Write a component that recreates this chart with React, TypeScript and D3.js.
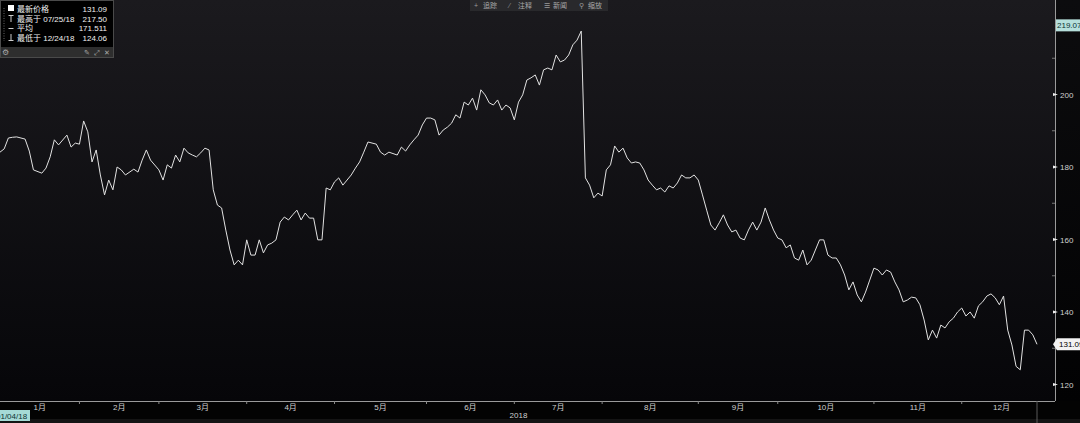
import { useEffect } from 'react'
import * as d3 from 'd3'

// [trading day since 01/04/18, close]
const SERIES: [number, number][] = [
  [0, 184.1], [1, 185.0], [2, 188.0], [3, 188.2], [4, 188.3], [6, 187.7], [7, 184.4], [8, 179.2], [10, 178.3], [11, 179.7],
  [12, 182.8], [13, 187.5], [14, 186.1], [16, 188.8], [17, 185.5], [18, 186.6], [19, 186.3], [20, 192.7], [21, 189.7], [22, 181.4],
  [23, 184.7], [24, 177.8], [25, 172.3], [26, 176.4], [27, 173.7], [28, 180.0], [29, 179.2], [30, 177.8], [32, 179.4], [33, 178.6],
  [34, 181.9], [35, 184.7], [36, 181.9], [38, 179.2], [39, 176.4], [40, 180.6], [41, 179.7], [42, 183.3], [43, 181.4], [44, 185.2],
  [45, 183.9], [46, 183.3], [47, 182.8], [48, 183.9], [49, 185.2], [50, 184.7], [51, 173.7], [52, 169.5], [53, 168.7], [54, 162.6],
  [55, 157.1], [56, 153.0], [57, 154.3], [58, 153.0], [59, 159.9], [60, 155.7], [61, 155.7], [62, 159.9], [63, 156.3], [64, 158.5],
  [65, 159.0], [66, 159.9], [67, 164.8], [68, 166.2], [69, 165.4], [70, 166.8], [71, 168.1], [72, 165.4], [73, 167.3], [74, 165.9],
  [75, 165.9], [76, 159.9], [77, 159.9], [78, 174.2], [79, 173.7], [80, 175.9], [81, 177.0], [82, 175.0], [83, 176.4], [84, 177.8],
  [85, 179.7], [86, 181.4], [87, 184.1], [88, 186.9], [90, 186.3], [91, 184.1], [92, 183.3], [93, 184.1], [95, 183.3], [96, 185.5],
  [97, 184.4], [98, 186.1], [99, 187.5], [100, 188.8], [101, 191.6], [102, 193.5], [103, 193.5], [104, 193.0], [105, 188.8], [106, 190.2],
  [107, 191.0], [108, 192.1], [109, 194.4], [110, 193.5], [111, 197.9], [112, 197.1], [113, 199.0], [114, 195.7], [115, 201.3], [116, 199.9],
  [117, 197.7], [118, 197.1], [119, 198.5], [120, 195.7], [121, 197.1], [122, 196.3], [123, 193.0], [124, 197.9], [125, 199.9], [126, 204.0],
  [127, 204.6], [128, 205.4], [129, 202.6], [130, 206.8], [131, 207.3], [132, 206.8], [133, 210.9], [134, 209.0], [135, 209.5], [136, 210.9],
  [137, 213.7], [138, 215.0], [139, 217.5], [140, 177.0], [141, 175.0], [142, 171.5], [143, 172.8], [144, 172.0], [145, 179.2], [146, 180.6],
  [147, 185.8], [148, 184.1], [149, 185.2], [150, 182.5], [151, 181.1], [152, 181.4], [153, 181.1], [154, 179.2], [155, 176.4], [156, 175.0],
  [157, 173.7], [158, 174.2], [159, 173.1], [160, 174.8], [161, 174.2], [162, 175.6], [163, 177.8], [164, 177.0], [165, 177.0], [166, 177.8],
  [167, 176.4], [168, 172.3], [169, 168.1], [170, 164.0], [171, 162.6], [172, 164.6], [173, 166.8], [174, 164.0], [175, 162.1], [176, 162.6],
  [177, 160.4], [178, 159.9], [179, 162.6], [180, 164.8], [181, 162.6], [182, 164.8], [183, 168.7], [184, 165.4], [185, 162.6], [186, 160.4],
  [187, 159.9], [188, 157.7], [189, 158.5], [190, 154.9], [191, 154.3], [192, 157.1], [193, 153.0], [194, 154.3], [195, 157.1], [196, 159.9],
  [197, 159.9], [198, 155.7], [199, 154.9], [200, 154.9], [201, 153.0], [202, 150.2], [203, 146.1], [204, 148.3], [205, 144.7], [206, 142.8],
  [207, 145.5], [208, 148.8], [209, 152.1], [210, 151.6], [211, 150.2], [212, 151.6], [213, 151.0], [214, 148.3], [215, 146.1], [216, 142.8],
  [217, 143.3], [218, 144.1], [219, 143.9], [220, 142.0], [221, 137.8], [222, 132.3], [223, 135.0], [224, 132.8], [225, 136.4], [226, 135.6],
  [227, 137.3], [228, 138.3], [229, 140.0], [230, 141.1], [231, 138.9], [232, 140.0], [233, 138.3], [234, 141.7], [235, 142.8], [236, 144.4],
  [237, 145.0], [238, 143.9], [239, 142.0], [240, 144.4], [241, 135.0], [242, 130.9], [243, 125.0], [244, 124.06], [245, 135.0], [246, 135.0],
  [247, 133.7], [248, 131.09],
]

// trading-day index where each month begins
const MONTH_STARTS = [0, 19, 38, 59, 80, 102, 123, 144, 167, 186, 209, 230, 249]
const MONTH_LABELS = ['1月', '2月', '3月', '4月', '5月', '6月', '7月', '8月', '9月', '10月', '11月', '12月']
const YEAR_LABEL = '2018'
const START_DATE = '01/04/18'

const Y_MAJOR = [120, 140, 160, 180, 200]
const Y_MINOR = [130, 150, 170, 190, 210]
const RANGE_TOP = 219.075
const LAST_PRICE = 131.09

const LEGEND_LABELS = ['最新价格', '最高于 07/25/18', '平均', '最低于 12/24/18']
const LEGEND_VALUES = ['131.09', '217.50', '171.511', '124.06']
const TOOLBAR_ICONS = ['+', '⁄', '☰', '⚲']
const TOOLBAR_LABELS = ['追踪', '注释', '新闻', '缩放']

const W = 1080
const H = 423
const PLOT_R = 1055
const PLOT_B = 401
const FONT = '"Liberation Sans", "Noto Sans CJK SC", sans-serif'

export default function App() {
  useEffect(() => {
    document.body.style.margin = '0'
    document.body.style.background = '#000'
  }, [])

  const lastDay = SERIES[SERIES.length - 1][0]
  const x = d3.scaleLinear().domain([0, lastDay]).range([0, 1037])
  const y = d3.scaleLinear().domain([115.45, 226.07]).range([PLOT_B, 0])

  const line = d3.line<[number, number]>()
    .x(d => x(d[0]))
    .y(d => y(d[1]))

  const lastX = x(lastDay)

  return (
    <svg width={W} height={H} style={{ display: 'block', background: '#000' }} fontFamily={FONT}>
      <defs>
        <linearGradient id="bg" x1="0" y1="0" x2="0" y2="1">
          <stop offset="0" stopColor="#1b1a1e" />
          <stop offset="1" stopColor="#060609" />
        </linearGradient>
        <linearGradient id="bgR" x1="0" y1="0" x2="0" y2="1">
          <stop offset="0" stopColor="#0c0c0e" />
          <stop offset="1" stopColor="#020203" />
        </linearGradient>
      </defs>

      {/* plot background */}
      <rect x={0} y={0} width={PLOT_R} height={PLOT_B} fill="url(#bg)" />
      <rect x={PLOT_R} y={0} width={W - PLOT_R} height={PLOT_B} fill="url(#bgR)" />
      <rect x={0} y={PLOT_B} width={W} height={H - PLOT_B} fill="#030303" />
      <rect x={0} y={419} width={W} height={4} fill="#141414" />

      {/* price line */}
      <path d={line(SERIES) ?? ''} fill="none" stroke="#e2e2e2" strokeWidth={1} strokeLinejoin="round" />

      {/* right axis */}
      <line x1={PLOT_R + 0.5} x2={PLOT_R + 0.5} y1={0} y2={PLOT_B} stroke="#9a9a9a" strokeWidth={1} />
      {Y_MINOR.map(v => (
        <line key={v} x1={PLOT_R - 3} x2={PLOT_R} y1={y(v)} y2={y(v)} stroke="#777" />
      ))}
      {Y_MAJOR.map(v => (
        <g key={v}>
          <path d={`M${PLOT_R - 2},${y(v) - 1.5}L${PLOT_R + 3},${y(v)}L${PLOT_R - 2},${y(v) + 1.5}Z`} fill="#eee" />
          <text x={PLOT_R + 5} y={y(v) + 3} fontSize={8} fill="#d0d0d0">{v}</text>
        </g>
      ))}

      {/* range top label */}
      <rect x={PLOT_R + 1} y={y(RANGE_TOP) - 6} width={30} height={12} fill="#b6e0dc" />
      <text x={PLOT_R + 2} y={y(RANGE_TOP) + 3} fontSize={8} fill="#0c3434">{RANGE_TOP}</text>

      {/* last price label */}
      <path
        d={`M${PLOT_R - 2},${y(LAST_PRICE)}L${PLOT_R + 2},${y(LAST_PRICE) - 6}H${W}V${y(LAST_PRICE) + 6}H${PLOT_R + 2}Z`}
        fill="#f2f2f2"
      />
      <text x={PLOT_R + 4} y={y(LAST_PRICE) + 3} fontSize={8} fill="#000">{LAST_PRICE.toFixed(2)}</text>

      {/* bottom axis */}
      <line x1={0} x2={PLOT_R} y1={PLOT_B + 0.5} y2={PLOT_B + 0.5} stroke="#9a9a9a" />
      {MONTH_STARTS.slice(1, -1).map(d => (
        <line key={d} x1={x(d)} x2={x(d)} y1={PLOT_B} y2={PLOT_B + 3} stroke="#8a8a8a" />
      ))}
      <line x1={lastX} x2={lastX} y1={PLOT_B} y2={H} stroke="#5a5a5a" />
      {MONTH_LABELS.map((m, i) => (
        <text
          key={m}
          x={x((MONTH_STARTS[i] + MONTH_STARTS[i + 1]) / 2)}
          y={410}
          fontSize={8}
          fill="#cfcfcf"
          textAnchor="middle"
        >
          {m}
        </text>
      ))}
      <text x={(x(0) + lastX) / 2} y={418} fontSize={8} fill="#cfcfcf" textAnchor="middle">{YEAR_LABEL}</text>

      {/* start date marker */}
      <rect x={0} y={410} width={30} height={11} fill="#a6dad6" />
      <text x={-4} y={418.5} fontSize={8} fill="#0c3434">{START_DATE}</text>

      {/* top toolbar */}
      <rect x={470} y={0} width={138} height={11} fill="#29292c" />
      {TOOLBAR_LABELS.map((t, i) => (
        <g key={t}>
          <text x={474 + i * 35} y={8} fontSize={7} fill="#9a9a9a">{TOOLBAR_ICONS[i]}</text>
          <text x={483 + i * 35} y={8} fontSize={7} fill="#a8a8a8">{t}</text>
        </g>
      ))}

      {/* legend box */}
      <rect x={0.5} y={0.5} width={113} height={57} fill="#000" stroke="#4a4a4a" />
      <rect x={1} y={47} width={112} height={10} fill="#2e2e2e" />
      <text x={2} y={55} fontSize={8} fill="#aaa">⚙</text>
      <text x={84} y={55} fontSize={7} fill="#aaa">✎</text>
      <text x={94} y={55} fontSize={7} fill="#aaa">⤢</text>
      <text x={104} y={55} fontSize={7} fill="#aaa">✕</text>
      <line x1={4} x2={4} y1={8} y2={41} stroke="#666" strokeDasharray="1,1.5" />
      <rect x={8} y={5} width={6} height={6} fill="#fff" />
      <path d="M8.5,15.5H13.5M11,15.5V22" stroke="#ccc" fill="none" />
      <path d="M8.5,28.5H13.5" stroke="#ccc" fill="none" />
      <path d="M11,34V40.5M8.5,40.5H13.5" stroke="#ccc" fill="none" />
      {LEGEND_LABELS.map((l, i) => (
        <g key={l}>
          <text x={17} y={12 + i * 9.7} fontSize={8} fill="#f0f0f0">{l}</text>
          <text x={107} y={12 + i * 9.7} fontSize={8} fill="#f0f0f0" textAnchor="end">{LEGEND_VALUES[i]}</text>
        </g>
      ))}
    </svg>
  )
}
